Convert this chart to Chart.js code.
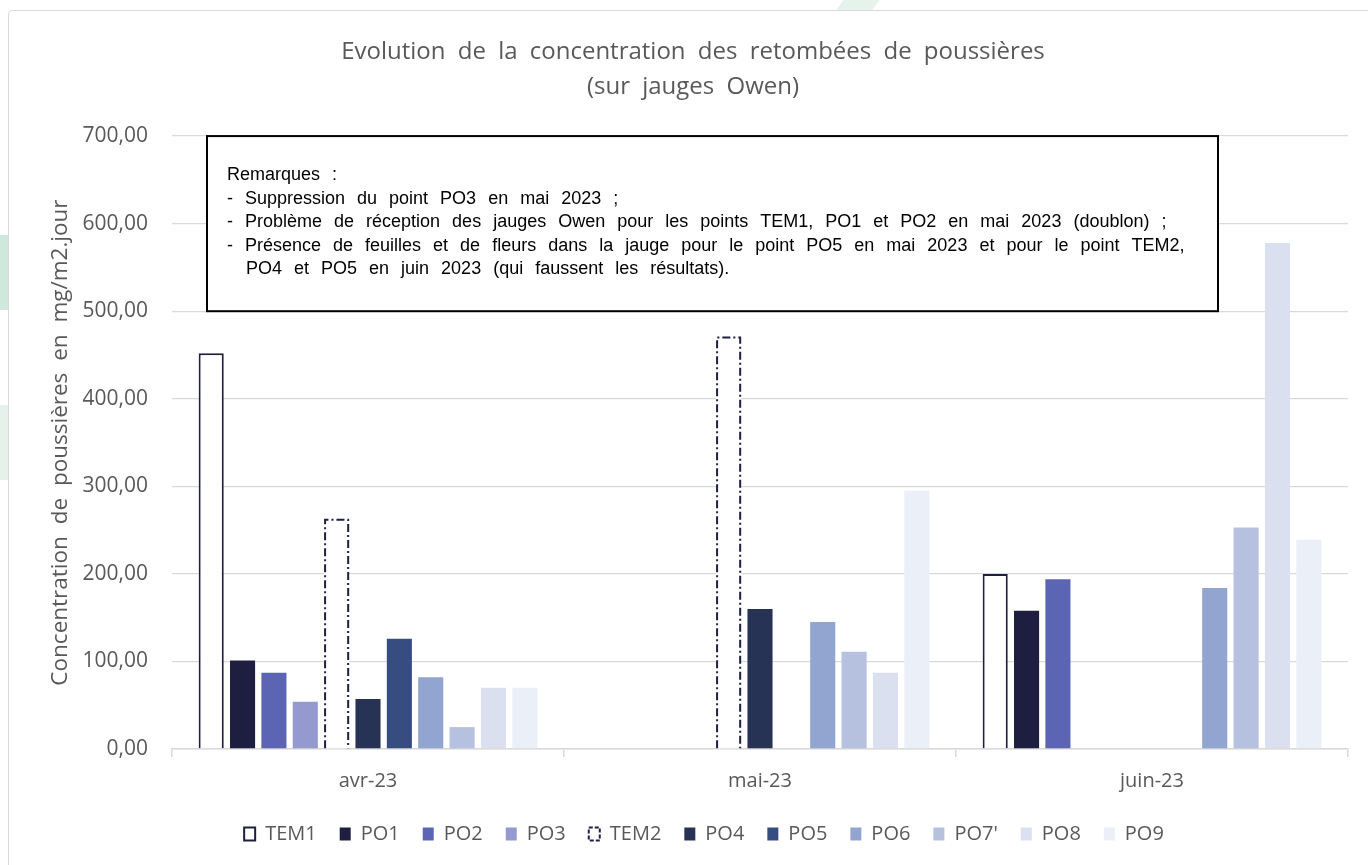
<!DOCTYPE html>
<html>
<head>
<meta charset="utf-8">
<script src="https://cdn.jsdelivr.net/npm/chart.js@4.4.0/dist/chart.umd.min.js"></script>
<style>
  html, body { margin: 0; padding: 0; background: #fff; }
  #wrap { position: relative; width: 1368px; height: 865px; overflow: hidden; }
  .deco { position: absolute; }
  #frame { position: absolute; left: 8px; top: 10px; width: 1400px; height: 900px;
           border: 1px solid #d9d9d9; border-radius: 4px; box-sizing: border-box; background: #fff; }
  #box { position: absolute; left: 0; top: 0; width: 1368px; height: 865px; }
</style>
</head>
<body>
<div id="wrap">
  <div class="deco" style="left:0;top:235px;width:8px;height:75px;background:#cfe8dc"></div>
  <div class="deco" style="left:0;top:405px;width:8px;height:75px;background:#e4f2eb"></div>
  <div class="deco" style="left:840px;top:0;width:36px;height:10px;background:#e6f3ec;transform:skewX(-35deg)"></div>
  <div id="frame"></div>
  <div id="box"><canvas id="chart"></canvas></div>
</div>
<script>
// catégories et séries (mg/m2.jour)
const categories = ['avr-23', 'mai-23', 'juin-23'];
const seriesNames = ['TEM1', 'PO1', 'PO2', 'PO3', 'TEM2', 'PO4', 'PO5', 'PO6', "PO7'", 'PO8', 'PO9'];
const TEM1 = [452, null, 200];
const PO1 = [101, null, 158];
const PO2 = [87, null, 194];
const PO3 = [54, null, null];
const TEM2 = [263, 471, null];
const PO4 = [57, 160, null];
const PO5 = [126, null, null];
const PO6 = [82, 145, 184];
const PO7 = [25, 111, 253];
const PO8 = [70, 87, 578];
const PO9 = [70, 295, 239];
const seriesValues = [TEM1, PO1, PO2, PO3, TEM2, PO4, PO5, PO6, PO7, PO8, PO9];
const seriesColors = ['#ffffff', '#1e1f40', '#5c64b4', '#9499cf', '#ffffff', '#263354',
                      '#374c80', '#92a5d0', '#b5c1df', '#dae0ef', '#ebeff8'];

const yMin = 0, yMax = 700, yStep = 100;

const titleLines = ['Evolution de la concentration des retombées de poussières', '(sur jauges Owen)'];
const yTitle = 'Concentration de poussières en mg/m2.jour';
const noteLines = [
  'Remarques :',
  '- Suppression du point PO3 en mai 2023 ;',
  '- Problème de réception des jauges Owen pour les points TEM1, PO1 et PO2 en mai 2023 (doublon) ;',
  '- Présence de feuilles et de fleurs dans la jauge pour le point PO5 en mai 2023 et pour le point TEM2,',
  'PO4 et PO5 en juin 2023 (qui faussent les résultats).'
];

const textGray = '#595959';
const gridGray = '#d9d9d9';
const navy = '#1c1f3f';

Chart.defaults.font.family = "'Open Sans', sans-serif";

// l'original a des espaces entre mots plus larges
const wideSpaces = {
  id: 'wideSpaces',
  beforeDraw(chart) {
    chart.ctx.wordSpacing = '6px';
  },
  afterLayout(chart) {
    // titre et légende décalés vers la droite comme dans l'original
    if (chart.titleBlock) {
      chart.titleBlock.left += 14;
      chart.titleBlock.right += 14;
    }
    if (chart.legend) {
      chart.legend.left += 25;
      chart.legend.right += 25;
    }
  }
};

// contour tiret-point pour TEM2 (Chart.js ne gère pas borderDash sur les barres)
const dashedBars = {
  id: 'dashedBars',
  afterDatasetsDraw(chart) {
    const idx = seriesNames.indexOf('TEM2');
    const meta = chart.getDatasetMeta(idx);
    const ctx = chart.ctx;
    ctx.save();
    ctx.strokeStyle = navy;
    ctx.lineWidth = 2;
    ctx.setLineDash([8, 3, 2, 3]);
    meta.data.forEach((bar, i) => {
      if (TEM2[i] == null) return;
      const { x, y, base, width } = bar.getProps(['x', 'y', 'base', 'width'], true);
      const l = x - width / 2 + 1, r = x + width / 2 - 1;
      ctx.beginPath();
      ctx.moveTo(l, base);
      ctx.lineTo(l, y + 1);
      ctx.lineTo(r, y + 1);
      ctx.lineTo(r, base);
      ctx.stroke();
    });
    ctx.restore();
  }
};

// encadré des remarques
const notesBox = {
  id: 'notesBox',
  afterDatasetsDraw(chart) {
    const { ctx, chartArea, scales } = chart;
    const left = chartArea.left + 35, right = chartArea.left + 1046;
    const top = scales.y.getPixelForValue(700), bottom = scales.y.getPixelForValue(500);
    ctx.save();
    ctx.fillStyle = '#fff';
    ctx.fillRect(left, top, right - left, bottom - top);
    ctx.lineWidth = 2;
    ctx.strokeStyle = '#000';
    ctx.strokeRect(left, top, right - left, bottom - top);
    ctx.fillStyle = '#000';
    ctx.font = '18px "Liberation Sans", Arial, sans-serif';
    ctx.wordSpacing = '7px';
    ctx.textBaseline = 'middle';
    noteLines.forEach((t, i) => {
      const indent = i === noteLines.length - 1 ? 39 : 20;
      ctx.fillText(t, left + indent, top + 39 + i * 23.5);
    });
    ctx.restore();
  }
};

const datasets = seriesNames.map((name, i) => ({
  label: name,
  data: seriesValues[i],
  backgroundColor: seriesColors[i],
  borderColor: name === 'TEM1' ? navy : 'rgba(0,0,0,0)',
  borderWidth: name === 'TEM1' ? 2 : 0,
  categoryPercentage: 0.88,
  barPercentage: 0.8,
}));

new Chart(document.getElementById('chart'), {
  type: 'bar',
  data: { labels: categories, datasets },
  plugins: [wideSpaces, dashedBars, notesBox],
  options: {
    responsive: true,
    maintainAspectRatio: false,
    animation: false,
    layout: { padding: { left: 10, right: 20, top: 0, bottom: 11 } },
    plugins: {
      tooltip: { enabled: false },
      title: {
        display: true,
        text: titleLines,
        color: textGray,
        font: { size: 24, weight: 'normal', lineHeight: 1.46 },
        padding: { top: 35, bottom: 31 },
      },
      legend: {
        position: 'bottom',
        labels: {
          color: textGray,
          font: { size: 20 },
          boxWidth: 11,
          boxHeight: 13,
          padding: 23,
          generateLabels(chart) {
            const items = Chart.defaults.plugins.legend.labels.generateLabels(chart);
            items.forEach(it => {
              if (it.text === 'TEM1') {
                it.fillStyle = '#fff'; it.strokeStyle = navy; it.lineWidth = 2;
              } else if (it.text === 'TEM2') {
                it.fillStyle = '#fff'; it.strokeStyle = navy; it.lineWidth = 2; it.lineDash = [4, 2];
              } else {
                it.lineWidth = 0;
              }
            });
            return items;
          }
        }
      }
    },
    scales: {
      x: {
        grid: { drawOnChartArea: false, drawTicks: true, tickLength: 8, color: gridGray, lineWidth: 1.5 },
        border: { display: true, color: gridGray, width: 1.5 },
        ticks: { color: textGray, font: { size: 20 }, padding: 12 },
        afterFit(scale) { scale.height = 52; },
      },
      y: {
        min: yMin,
        max: yMax,
        ticks: {
          stepSize: yStep,
          color: textGray,
          font: { size: 21 },
          padding: 24,
          callback: v => v.toFixed(2).replace('.', ','),
        },
        grid: { color: gridGray, lineWidth: 1.3, drawTicks: false },
        border: { display: false },
        title: {
          display: true,
          text: yTitle,
          color: textGray,
          font: { size: 22.5 },
          padding: { top: 37, bottom: 0 },
        },
        afterFit(scale) { scale.width = 162; },
      }
    }
  }
});
</script>
</body>
</html>
